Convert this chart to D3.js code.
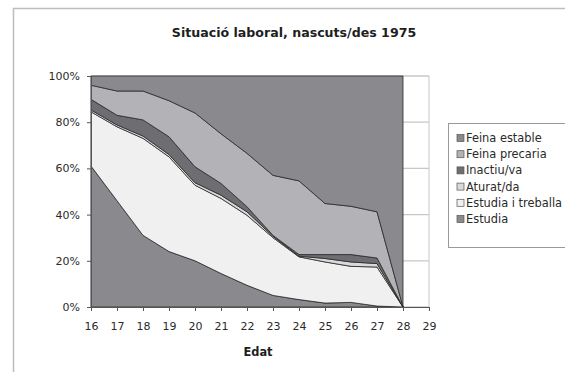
<!DOCTYPE html>
<html>
<head>
<meta charset="utf-8">
<script src="https://cdn.jsdelivr.net/npm/d3@7"></script>
<style>
  body { margin: 0; background: #fff; }
  svg { font-family: "DejaVu Sans", sans-serif; }
</style>
</head>
<body>
<script>
// categories (age), data stops at 28
const ages = [16, 17, 18, 19, 20, 21, 22, 23, 24, 25, 26, 27, 28, 29];
const dataAges = [16, 17, 18, 19, 20, 21, 22, 23, 24, 25, 26, 27, 28];

// series values (%), bottom to top
const estudia        = [61, 46, 31, 24, 20, 14.5, 9.4, 5, 3.2, 1.7, 2, 0.4, 0];
const estudiaTreball = [23.5, 32, 42, 41, 32.7, 32.5, 30.3, 25, 18.5, 17.8, 15.6, 16.9, 0];
const aturat         = [0.8, 0.8, 1, 1, 1.1, 1.4, 1.5, 0.6, 0.3, 1.5, 1.9, 1.5, 0];
const inactiu        = [4.6, 4.2, 7, 7.7, 6.9, 5.1, 2.2, 0.4, 0.7, 1.7, 3.2, 2.4, 0];
const precaria       = [6.1, 10.5, 12.5, 15.6, 23.3, 21.5, 23.1, 26, 31.9, 22.1, 20.9, 20, 0];
const estable        = [4, 6.5, 6.5, 10.7, 16, 25, 33.5, 43, 45.4, 55.2, 56.4, 58.8, 100];

const yTicks = [0, 20, 40, 60, 80, 100];

const seriesNames = ["Estudia", "Estudia i treballa", "Aturat/da", "Inactiu/va", "Feina precaria", "Feina estable"];
const seriesVals = [estudia, estudiaTreball, aturat, inactiu, precaria, estable];
const colors = ["#8a8a8e", "#f0f0f0", "#d9d9db", "#6e6e72", "#b3b3b7", "#8a8a8e"];

const W = 565, H = 372;
const svg = d3.select("body").append("svg")
  .attr("width", W)
  .attr("height", H);

// chart border
svg.append("rect")
  .attr("x", 13.5).attr("y", 8.5)
  .attr("width", 600).attr("height", 400)
  .attr("fill", "#fff")
  .attr("stroke", "#bdbdbd")
  .attr("stroke-width", 1.5);

const pL = 91, pR = 429, pT = 76, pB = 307;

const x = d3.scalePoint().domain(ages).range([pL, pR]);
const y = d3.scaleLinear().domain([0, 100]).range([pB, pT]);

// plot frame + gridlines
svg.append("rect")
  .attr("x", pL).attr("y", pT)
  .attr("width", pR - pL).attr("height", pB - pT)
  .attr("fill", "#fff")
  .attr("stroke", "#c8c8c8");

svg.append("g")
  .selectAll("line")
  .data(yTicks)
  .enter().append("line")
    .attr("x1", pL).attr("x2", pR)
    .attr("y1", d => y(d)).attr("y2", d => y(d))
    .attr("stroke", "#c8c8c8")
    .attr("stroke-width", 1.2);

// build table for stack
const table = dataAges.map((a, i) => {
  const row = { age: a };
  seriesNames.forEach((n, j) => { row[n] = seriesVals[j][i]; });
  return row;
});

const stacked = d3.stack().keys(seriesNames)(table);

const area = d3.area()
  .x(d => x(d.data.age))
  .y0(d => y(d[0]))
  .y1(d => y(d[1]));

svg.append("g")
  .selectAll("path")
  .data(stacked)
  .enter().append("path")
    .attr("d", area)
    .attr("fill", (d, i) => colors[i])
    .attr("stroke", "#2a2a2a")
    .attr("stroke-width", 0.8);

// axes
const yAxis = svg.append("g")
  .attr("transform", `translate(${pL},0)`)
  .call(d3.axisLeft(y).tickValues(yTicks).tickFormat(d => d + "%").tickSize(4).tickPadding(7));

const xAxis = svg.append("g")
  .attr("transform", `translate(0,${pB})`)
  .call(d3.axisBottom(x).tickSize(4).tickPadding(11));

[yAxis, xAxis].forEach(g => {
  g.select(".domain").attr("stroke", "#555");
  g.selectAll(".tick line").attr("stroke", "#555");
  g.selectAll("text")
    .attr("font-size", "11px")
    .attr("fill", "#2a2a2a")
    .attr("font-family", "DejaVu Sans, sans-serif");
});

svg.append("text")
  .attr("x", 294).attr("y", 37)
  .attr("text-anchor", "middle")
  .attr("font-size", "12.6px")
  .attr("font-weight", "bold")
  .attr("fill", "#1e1e1e")
  .text("Situació laboral, nascuts/des 1975");

svg.append("text")
  .attr("x", 258).attr("y", 356)
  .attr("text-anchor", "middle")
  .attr("font-size", "11.4px")
  .attr("font-weight", "bold")
  .attr("fill", "#1e1e1e")
  .text("Edat");

// legend
const leg = svg.append("g");
leg.append("rect")
  .attr("x", 448.5).attr("y", 123.5)
  .attr("width", 130).attr("height", 124)
  .attr("fill", "#fff")
  .attr("stroke", "#9a9a9a");

const legOrder = seriesNames.slice().reverse();
const legColors = colors.slice().reverse();
const items = leg.selectAll("g.item")
  .data(legOrder)
  .enter().append("g")
    .attr("transform", (d, i) => `translate(457,${138 + i * 16.2})`);

items.append("rect")
  .attr("x", 0).attr("y", -3.5)
  .attr("width", 7).attr("height", 7)
  .attr("fill", (d, i) => legColors[i])
  .attr("stroke", "#555")
  .attr("stroke-width", 0.7);

items.append("text")
  .attr("x", 9).attr("y", 4)
  .attr("font-size", "11.4px")
  .attr("fill", "#2a2a2a")
  .text(d => d);
</script>
</body>
</html>
